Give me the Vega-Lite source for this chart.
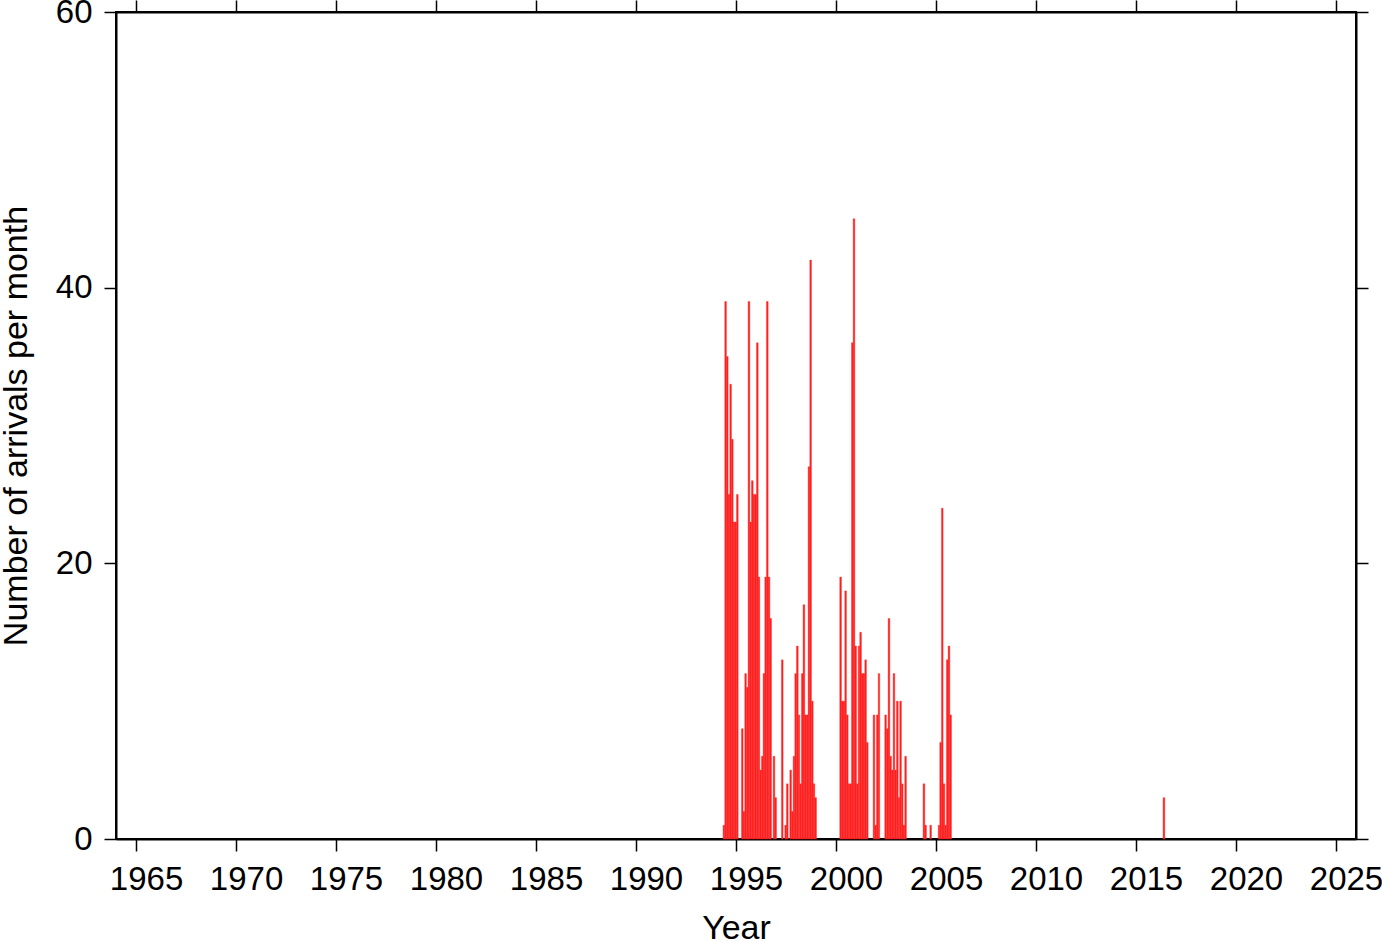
{
  "$schema": "https://vega.github.io/schema/vega-lite/v6.json",
  "width": 1240,
  "height": 827,
  "autosize": {"type": "none"},
  "padding": {"left": 116, "top": 12, "right": 26, "bottom": 103},
  "background": "white",
  "config": {
    "view": {"stroke": "black", "strokeWidth": 2},
    "font": "Liberation Sans",
    "axis": {
      "domainColor": "black", "domainWidth": 2,
      "tickColor": "black", "tickWidth": 1.5, "tickSize": 12,
      "labelFont": "Liberation Sans", "labelFontSize": 33, "labelColor": "black",
      "titleFont": "Liberation Sans", "titleFontSize": 34, "titleFontWeight": "normal", "titleColor": "black",
      "grid": false
    }
  },
  "data": {"values": [
    {"month": "1994-05-01", "arrivals": 1},
    {"month": "1994-06-01", "arrivals": 39},
    {"month": "1994-07-01", "arrivals": 35},
    {"month": "1994-08-01", "arrivals": 25},
    {"month": "1994-09-01", "arrivals": 33},
    {"month": "1994-10-01", "arrivals": 29},
    {"month": "1994-11-01", "arrivals": 23},
    {"month": "1994-12-01", "arrivals": 23},
    {"month": "1995-01-01", "arrivals": 25},
    {"month": "1995-04-01", "arrivals": 8},
    {"month": "1995-05-01", "arrivals": 2},
    {"month": "1995-06-01", "arrivals": 12},
    {"month": "1995-07-01", "arrivals": 11},
    {"month": "1995-08-01", "arrivals": 39},
    {"month": "1995-09-01", "arrivals": 23},
    {"month": "1995-10-01", "arrivals": 26},
    {"month": "1995-11-01", "arrivals": 25},
    {"month": "1995-12-01", "arrivals": 25},
    {"month": "1996-01-01", "arrivals": 36},
    {"month": "1996-02-01", "arrivals": 19},
    {"month": "1996-03-01", "arrivals": 5},
    {"month": "1996-04-01", "arrivals": 6},
    {"month": "1996-05-01", "arrivals": 12},
    {"month": "1996-06-01", "arrivals": 19},
    {"month": "1996-07-01", "arrivals": 39},
    {"month": "1996-08-01", "arrivals": 19},
    {"month": "1996-09-01", "arrivals": 16},
    {"month": "1996-11-01", "arrivals": 6},
    {"month": "1996-12-01", "arrivals": 3},
    {"month": "1997-04-01", "arrivals": 13},
    {"month": "1997-06-01", "arrivals": 1},
    {"month": "1997-07-01", "arrivals": 4},
    {"month": "1997-09-01", "arrivals": 5},
    {"month": "1997-10-01", "arrivals": 2},
    {"month": "1997-11-01", "arrivals": 6},
    {"month": "1997-12-01", "arrivals": 12},
    {"month": "1998-01-01", "arrivals": 14},
    {"month": "1998-02-01", "arrivals": 9},
    {"month": "1998-03-01", "arrivals": 4},
    {"month": "1998-04-01", "arrivals": 12},
    {"month": "1998-05-01", "arrivals": 17},
    {"month": "1998-06-01", "arrivals": 9},
    {"month": "1998-07-01", "arrivals": 9},
    {"month": "1998-08-01", "arrivals": 27},
    {"month": "1998-09-01", "arrivals": 42},
    {"month": "1998-10-01", "arrivals": 10},
    {"month": "1998-11-01", "arrivals": 4},
    {"month": "1998-12-01", "arrivals": 3},
    {"month": "2000-03-01", "arrivals": 19},
    {"month": "2000-04-01", "arrivals": 10},
    {"month": "2000-05-01", "arrivals": 10},
    {"month": "2000-06-01", "arrivals": 18},
    {"month": "2000-07-01", "arrivals": 9},
    {"month": "2000-08-01", "arrivals": 4},
    {"month": "2000-09-01", "arrivals": 4},
    {"month": "2000-10-01", "arrivals": 36},
    {"month": "2000-11-01", "arrivals": 45},
    {"month": "2000-12-01", "arrivals": 14},
    {"month": "2001-01-01", "arrivals": 4},
    {"month": "2001-02-01", "arrivals": 14},
    {"month": "2001-03-01", "arrivals": 15},
    {"month": "2001-04-01", "arrivals": 12},
    {"month": "2001-05-01", "arrivals": 12},
    {"month": "2001-06-01", "arrivals": 13},
    {"month": "2001-07-01", "arrivals": 7},
    {"month": "2001-11-01", "arrivals": 9},
    {"month": "2001-12-01", "arrivals": 1},
    {"month": "2002-01-01", "arrivals": 9},
    {"month": "2002-02-01", "arrivals": 12},
    {"month": "2002-06-01", "arrivals": 9},
    {"month": "2002-07-01", "arrivals": 8},
    {"month": "2002-08-01", "arrivals": 16},
    {"month": "2002-09-01", "arrivals": 6},
    {"month": "2002-10-01", "arrivals": 5},
    {"month": "2002-11-01", "arrivals": 12},
    {"month": "2002-12-01", "arrivals": 5},
    {"month": "2003-01-01", "arrivals": 10},
    {"month": "2003-02-01", "arrivals": 3},
    {"month": "2003-03-01", "arrivals": 10},
    {"month": "2003-04-01", "arrivals": 4},
    {"month": "2003-05-01", "arrivals": 1},
    {"month": "2003-06-01", "arrivals": 6},
    {"month": "2004-05-01", "arrivals": 4},
    {"month": "2004-06-01", "arrivals": 1},
    {"month": "2004-09-01", "arrivals": 1},
    {"month": "2005-02-01", "arrivals": 1},
    {"month": "2005-03-01", "arrivals": 7},
    {"month": "2005-04-01", "arrivals": 24},
    {"month": "2005-05-01", "arrivals": 4},
    {"month": "2005-06-01", "arrivals": 1},
    {"month": "2005-07-01", "arrivals": 13},
    {"month": "2005-08-01", "arrivals": 14},
    {"month": "2005-09-01", "arrivals": 9},
    {"month": "2016-05-01", "arrivals": 3}
  ]},
  "layer": [
    {
      "mark": {"type": "bar", "color": "#ff1e1e", "binSpacing": 0, "stroke": "#ff2a2a", "strokeWidth": 0.4},
      "encoding": {
        "x": {
          "field": "month", "type": "temporal", "timeUnit": "utcyearmonth",
          "scale": {"type": "utc", "domain": [{"year": 1964, "month": 1, "date": 1, "utc": true}, {"year": 2026, "month": 1, "date": 1, "utc": true}], "nice": false},
          "axis": {
            "orient": "bottom", "title": "Year",
            "labelExpr": "utcFormat(datum.value, '%Y')",
            "values": [
              {"year": 1965, "month": 1, "date": 1, "utc": true},
              {"year": 1970, "month": 1, "date": 1, "utc": true},
              {"year": 1975, "month": 1, "date": 1, "utc": true},
              {"year": 1980, "month": 1, "date": 1, "utc": true},
              {"year": 1985, "month": 1, "date": 1, "utc": true},
              {"year": 1990, "month": 1, "date": 1, "utc": true},
              {"year": 1995, "month": 1, "date": 1, "utc": true},
              {"year": 2000, "month": 1, "date": 1, "utc": true},
              {"year": 2005, "month": 1, "date": 1, "utc": true},
              {"year": 2010, "month": 1, "date": 1, "utc": true},
              {"year": 2015, "month": 1, "date": 1, "utc": true},
              {"year": 2020, "month": 1, "date": 1, "utc": true},
              {"year": 2025, "month": 1, "date": 1, "utc": true}
            ],
            "labelPadding": 12, "labelOffset": 10, "titlePadding": 15, "labelFlush": false, "labelOverlap": false
          }
        },
        "y": {
          "field": "arrivals", "type": "quantitative",
          "scale": {"domain": [0, 60], "nice": false, "zero": true},
          "axis": {
            "orient": "left", "title": "Number of arrivals per month",
            "values": [0, 20, 40, 60], "labelPadding": 12, "titlePadding": 22
          }
        }
      }
    },
    {
      "mark": {"type": "bar", "opacity": 0, "binSpacing": 0},
      "encoding": {
        "x": {
          "field": "month", "type": "temporal", "timeUnit": "utcyearmonth",
          "axis": {
            "orient": "top", "title": null, "labels": false,
            "values": [
              {"year": 1965, "month": 1, "date": 1, "utc": true},
              {"year": 1970, "month": 1, "date": 1, "utc": true},
              {"year": 1975, "month": 1, "date": 1, "utc": true},
              {"year": 1980, "month": 1, "date": 1, "utc": true},
              {"year": 1985, "month": 1, "date": 1, "utc": true},
              {"year": 1990, "month": 1, "date": 1, "utc": true},
              {"year": 1995, "month": 1, "date": 1, "utc": true},
              {"year": 2000, "month": 1, "date": 1, "utc": true},
              {"year": 2005, "month": 1, "date": 1, "utc": true},
              {"year": 2010, "month": 1, "date": 1, "utc": true},
              {"year": 2015, "month": 1, "date": 1, "utc": true},
              {"year": 2020, "month": 1, "date": 1, "utc": true},
              {"year": 2025, "month": 1, "date": 1, "utc": true}
            ]
          }
        },
        "y": {
          "field": "arrivals", "type": "quantitative",
          "axis": {"orient": "right", "title": null, "labels": false, "values": [0, 20, 40, 60]}
        }
      }
    }
  ],
  "resolve": {"axis": {"x": "independent", "y": "independent"}}
}
